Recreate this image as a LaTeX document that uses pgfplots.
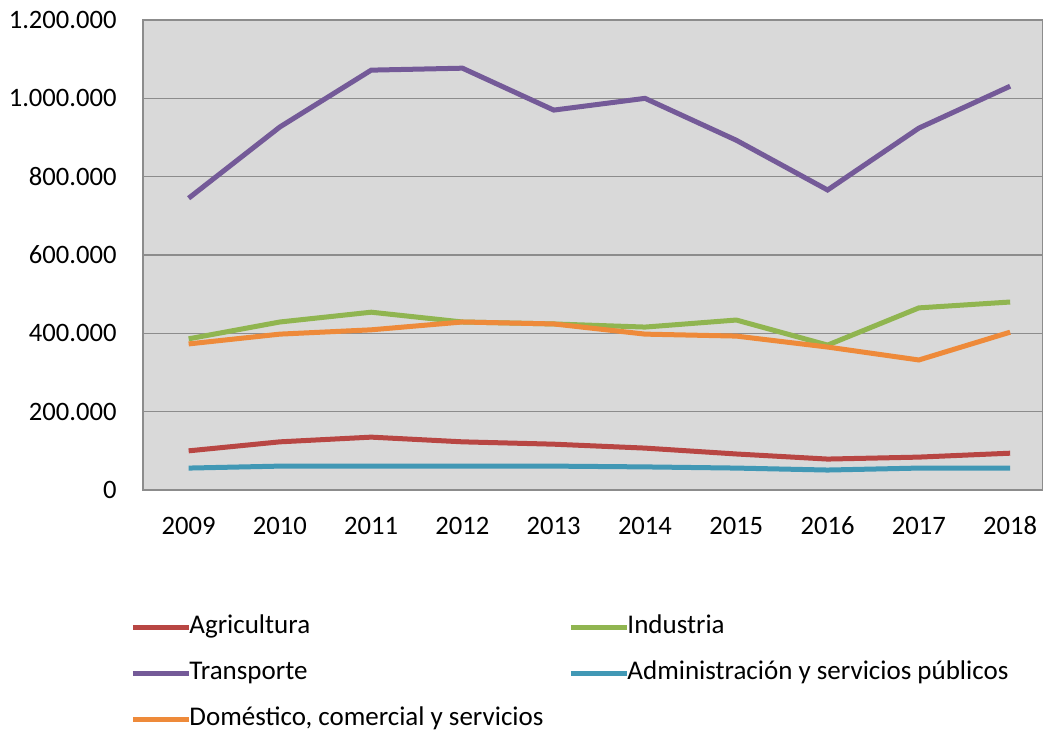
\documentclass[border=0pt]{standalone}
\usepackage{pgfplots}
\pgfplotsset{compat=1.18}
\usepackage{fontspec}
\setmainfont{Carlito}
\definecolor{cagr}{HTML}{B84643}
\definecolor{cind}{HTML}{90B550}
\definecolor{ctra}{HTML}{745A98}
\definecolor{cadm}{HTML}{4198B5}
\definecolor{cdom}{HTML}{EE8A3A}
\definecolor{cbg}{HTML}{D9D9D9}
\definecolor{cgrid}{HTML}{8C8C8C}
\begin{document}
\fontsize{13pt}{15pt}\selectfont
\begin{tikzpicture}
\path[use as bounding box] (-71.5pt,-123pt) rectangle (450pt,245pt);
\begin{axis}[
  at={(0,0)}, anchor=south west,
  scale only axis, width=450pt, height=235pt,
  xmin=2008.5, xmax=2018.36, ymin=0, ymax=1200000,
  scaled y ticks=false,
  axis background/.style={fill=cbg},
  axis line style={cgrid, line width=0.8pt},
  xtick={2009,...,2018},
  xticklabels={2009,2010,2011,2012,2013,2014,2015,2016,2017,2018},
  ytick={0,200000,400000,600000,800000,1000000,1200000},
  yticklabels={0,200.000,400.000,600.000,800.000,1.000.000,1.200.000},
  major tick length=0pt,
  ymajorgrids, grid style={cgrid, line width=0.8pt},
  yticklabel style={inner sep=0pt, xshift=-13pt, font=\fontsize{13.3pt}{15pt}\selectfont},
  xticklabel style={inner sep=0pt, anchor=north, text height=9pt, text depth=0pt, yshift=-13pt, font=\fontsize{13.3pt}{15pt}\selectfont},
  legend columns=2,
  legend style={at={(-0.0144,-0.266)}, anchor=north west, draw=none, fill=none, inner sep=0pt,
    font=\fontsize{13.5pt}{15pt}\selectfont,
    nodes={inner sep=0pt, text height=9pt, text depth=3pt},
    row sep=11pt,
    /tikz/every odd column/.append style={column sep=-1pt},
    /tikz/every even column/.append style={column sep=12.5pt}},
  legend cell align=left,
  legend image code/.code={\draw[#1, line width=2.5pt] (0pt,0pt) -- (28pt,0pt);},
  every axis plot/.append style={line width=2.5pt, mark=none},
]
\addplot[cagr] coordinates {(2009,100000)(2010,123000)(2011,135000)(2012,123000)(2013,117000)(2014,107000)(2015,92000)(2016,79000)(2017,84000)(2018,94000)};
\addlegendentry{Agricultura}
\addplot[cind] coordinates {(2009,386000)(2010,429000)(2011,454000)(2012,429000)(2013,424000)(2014,416000)(2015,434000)(2016,370000)(2017,465000)(2018,480000)};
\addlegendentry{Industria}
\addplot[ctra] coordinates {(2009,745000)(2010,927000)(2011,1072000)(2012,1077000)(2013,970000)(2014,1000000)(2015,893000)(2016,766000)(2017,924000)(2018,1031000)};
\addlegendentry{Transporte}
\addplot[cadm] coordinates {(2009,56000)(2010,61000)(2011,61000)(2012,61000)(2013,61000)(2014,59000)(2015,56000)(2016,51000)(2017,56000)(2018,56000)};
\addlegendentry{Administración y servicios públicos}
\addplot[cdom] coordinates {(2009,373000)(2010,398000)(2011,409000)(2012,429000)(2013,424000)(2014,398000)(2015,393000)(2016,365000)(2017,332000)(2018,403000)};
\addlegendentry{Doméstico, comercial y servicios}
\end{axis}
\end{tikzpicture}
\end{document}
